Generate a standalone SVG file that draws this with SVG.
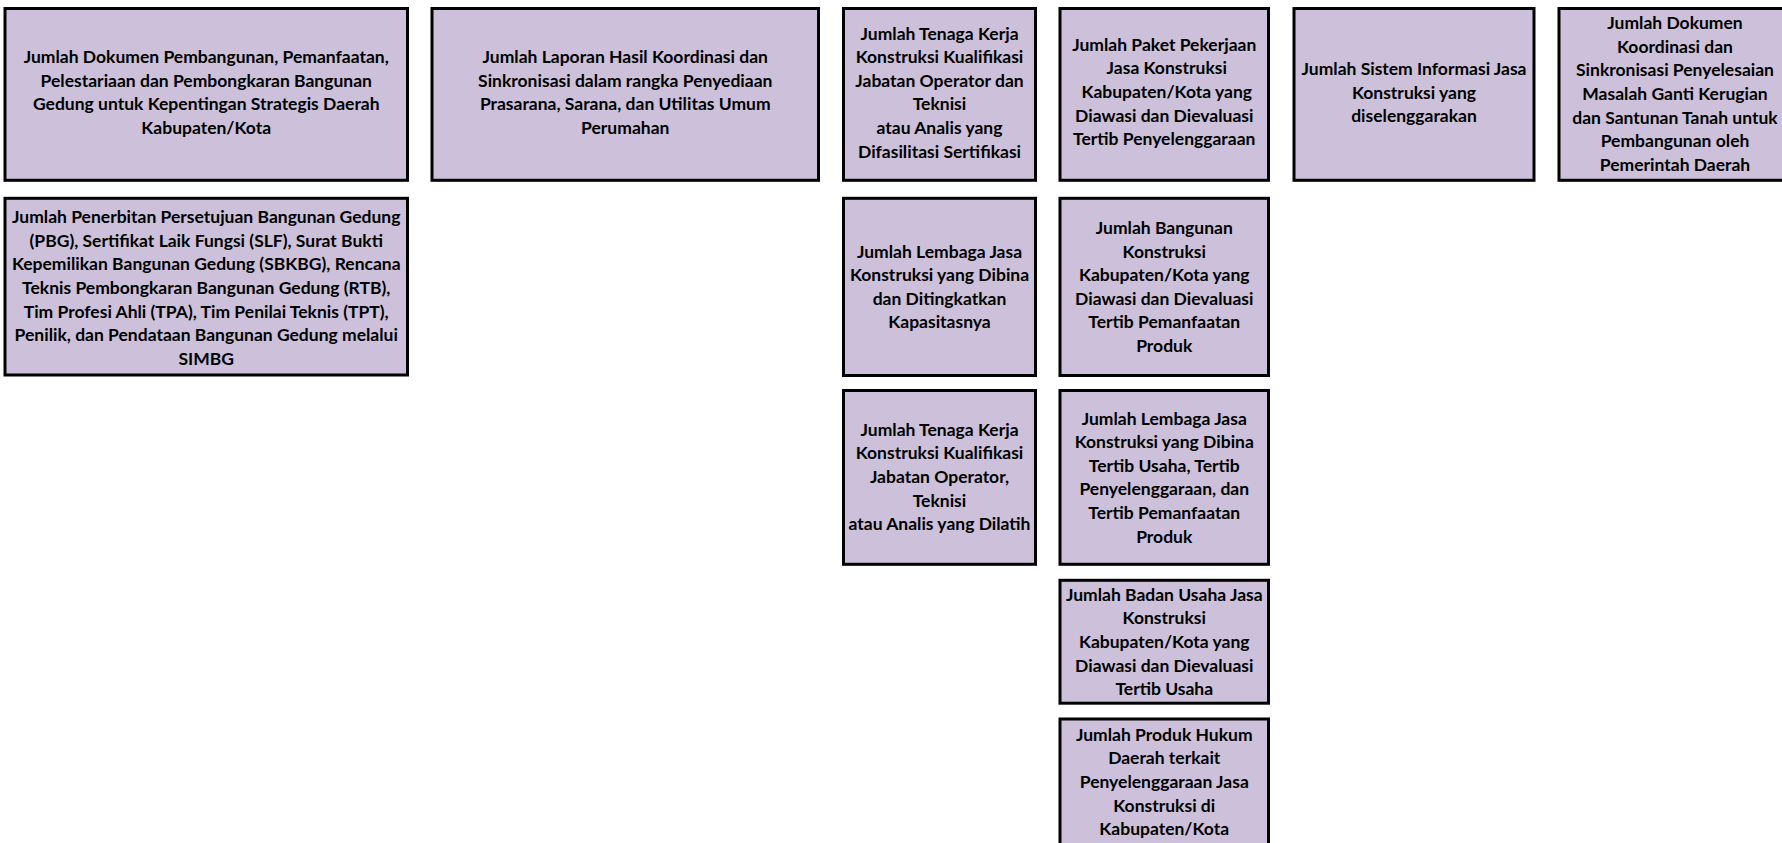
<svg xmlns="http://www.w3.org/2000/svg" width="1782" height="843" viewBox="0 0 1782 843">
<style>
.box{fill:#ccc0da;stroke:#000;stroke-width:3}
.t{font-family:Lato,"Liberation Sans",sans-serif;font-weight:bold;font-size:17.5px;fill:#000;text-anchor:middle}
</style>
<rect width="1782" height="843" fill="#fff"/>
<g id="connectors"/>
<g id="n1">
<rect class="box" x="5" y="8.5" width="402.5" height="171.8"/>
<text class="t"><tspan x="206.25" y="63">Jumlah Dokumen Pembangunan, Pemanfaatan,</tspan><tspan x="206.25" y="87">Pelestariaan dan Pembongkaran Bangunan</tspan><tspan x="206.25" y="110">Gedung untuk Kepentingan Strategis Daerah</tspan><tspan x="206.25" y="134">Kabupaten/Kota</tspan></text>
</g>
<g id="n2">
<rect class="box" x="432" y="8.5" width="386.5" height="171.8"/>
<text class="t"><tspan x="625.25" y="63">Jumlah Laporan Hasil Koordinasi dan</tspan><tspan x="625.25" y="87">Sinkronisasi dalam rangka Penyediaan</tspan><tspan x="625.25" y="110">Prasarana, Sarana, dan Utilitas Umum</tspan><tspan x="625.25" y="134">Perumahan</tspan></text>
</g>
<g id="n3">
<rect class="box" x="843.5" y="8.5" width="192" height="171.8"/>
<text class="t"><tspan x="939.5" y="39.5">Jumlah Tenaga Kerja</tspan><tspan x="939.5" y="63">Konstruksi Kualifikasi</tspan><tspan x="939.5" y="86.7">Jabatan Operator dan</tspan><tspan x="939.5" y="110.3">Teknisi</tspan><tspan x="939.5" y="134">atau Analis yang</tspan><tspan x="939.5" y="157.5">Difasilitasi Sertifikasi</tspan></text>
</g>
<g id="n4">
<rect class="box" x="1060" y="8.5" width="208.5" height="171.8"/>
<text class="t"><tspan x="1164.25" y="50.8">Jumlah Paket Pekerjaan</tspan><tspan x="1166.75" y="74.4">Jasa Konstruksi</tspan><tspan x="1166.75" y="98">Kabupaten/Kota yang</tspan><tspan x="1164.25" y="121.6">Diawasi dan Dievaluasi</tspan><tspan x="1164.25" y="145.2">Tertib Penyelenggaraan</tspan></text>
</g>
<g id="n5">
<rect class="box" x="1294" y="8.5" width="240" height="171.8"/>
<text class="t"><tspan x="1414" y="75">Jumlah Sistem Informasi Jasa</tspan><tspan x="1414" y="98.5">Konstruksi yang</tspan><tspan x="1414" y="122">diselenggarakan</tspan></text>
</g>
<g id="n6">
<rect class="box" x="1559" y="8.5" width="236" height="171.8"/>
<text class="t"><tspan x="1675" y="29.2">Jumlah Dokumen</tspan><tspan x="1675" y="52.8">Koordinasi dan</tspan><tspan x="1675" y="76.4">Sinkronisasi Penyelesaian</tspan><tspan x="1675" y="100">Masalah Ganti Kerugian</tspan><tspan x="1675" y="123.6">dan Santunan Tanah untuk</tspan><tspan x="1675" y="147.2">Pembangunan oleh</tspan><tspan x="1675" y="170.8">Pemerintah Daerah</tspan></text>
</g>
<g id="n7">
<rect class="box" x="5" y="198.3" width="402.5" height="176.7"/>
<text class="t"><tspan x="206.25" y="223.2">Jumlah Penerbitan Persetujuan Bangunan Gedung</tspan><tspan x="206.25" y="246.8">(PBG), Sertifikat Laik Fungsi (SLF), Surat Bukti</tspan><tspan x="206.25" y="270.4">Kepemilikan Bangunan Gedung (SBKBG), Rencana</tspan><tspan x="206.25" y="294">Teknis Pembongkaran Bangunan Gedung (RTB),</tspan><tspan x="206.25" y="317.6">Tim Profesi Ahli (TPA), Tim Penilai Teknis (TPT),</tspan><tspan x="206.25" y="341.2">Penilik, dan Pendataan Bangunan Gedung melalui</tspan><tspan x="206.25" y="364.8">SIMBG</tspan></text>
</g>
<g id="n8">
<rect class="box" x="843.5" y="198.3" width="192" height="177.2"/>
<text class="t"><tspan x="939.5" y="257.6">Jumlah Lembaga Jasa</tspan><tspan x="939.5" y="281.2">Konstruksi yang Dibina</tspan><tspan x="939.5" y="304.8">dan Ditingkatkan</tspan><tspan x="939.5" y="328.4">Kapasitasnya</tspan></text>
</g>
<g id="n9">
<rect class="box" x="1060" y="198.3" width="208.5" height="177.2"/>
<text class="t"><tspan x="1164.25" y="234">Jumlah Bangunan</tspan><tspan x="1164.25" y="257.6">Konstruksi</tspan><tspan x="1164.25" y="281.2">Kabupaten/Kota yang</tspan><tspan x="1164.25" y="304.8">Diawasi dan Dievaluasi</tspan><tspan x="1164.25" y="328.4">Tertib Pemanfaatan</tspan><tspan x="1164.25" y="352">Produk</tspan></text>
</g>
<g id="n10">
<rect class="box" x="843.5" y="390.5" width="192" height="173.8"/>
<text class="t"><tspan x="939.5" y="435.8">Jumlah Tenaga Kerja</tspan><tspan x="939.5" y="459.4">Konstruksi Kualifikasi</tspan><tspan x="939.5" y="483">Jabatan Operator,</tspan><tspan x="939.5" y="506.6">Teknisi</tspan><tspan x="939.5" y="530.2">atau Analis yang Dilatih</tspan></text>
</g>
<g id="n11">
<rect class="box" x="1060" y="390.5" width="208.5" height="173.8"/>
<text class="t"><tspan x="1164.25" y="424.5">Jumlah Lembaga Jasa</tspan><tspan x="1164.25" y="448.1">Konstruksi yang Dibina</tspan><tspan x="1164.25" y="471.7">Tertib Usaha, Tertib</tspan><tspan x="1164.25" y="495.3">Penyelenggaraan, dan</tspan><tspan x="1164.25" y="518.9">Tertib Pemanfaatan</tspan><tspan x="1164.25" y="542.5">Produk</tspan></text>
</g>
<g id="n12">
<rect class="box" x="1060" y="580.3" width="208.5" height="122.9"/>
<text class="t"><tspan x="1164.25" y="600.8">Jumlah Badan Usaha Jasa</tspan><tspan x="1164.25" y="624.4">Konstruksi</tspan><tspan x="1164.25" y="648">Kabupaten/Kota yang</tspan><tspan x="1164.25" y="671.6">Diawasi dan Dievaluasi</tspan><tspan x="1164.25" y="695.2">Tertib Usaha</tspan></text>
</g>
<g id="n13">
<rect class="box" x="1060" y="719" width="208.5" height="130"/>
<text class="t"><tspan x="1164.25" y="740.8">Jumlah Produk Hukum</tspan><tspan x="1164.25" y="764.4">Daerah terkait</tspan><tspan x="1164.25" y="788">Penyelenggaraan Jasa</tspan><tspan x="1164.25" y="811.6">Konstruksi di</tspan><tspan x="1164.25" y="835.2">Kabupaten/Kota</tspan></text>
</g>
</svg>
